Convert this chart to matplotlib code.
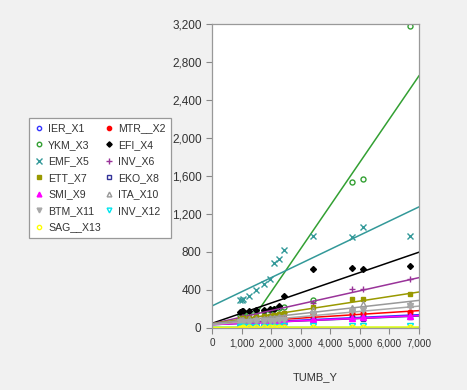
import matplotlib
matplotlib.use("Agg")
import matplotlib.pyplot as plt
from matplotlib.ticker import FuncFormatter
import numpy as np

plt.rcParams['font.family'] = ['Liberation Sans', 'DejaVu Sans']

# ---- data ----
tumb_y = [950, 1000, 1050, 1250, 1500, 1750, 1950, 2100, 2250, 2450, 3400, 4750, 5100, 6700]

series_names = ["IER_X1", "MTR__X2", "YKM_X3", "EFI_X4", "EMF_X5", "INV_X6", "ETT_X7",
                "EKO_X8", "SMI_X9", "ITA_X10", "BTM_X11", "INV_X12", "SAG__X13"]

ier_x1 = [55, 60, 58, 62, 65, 70, 72, 75, 78, 80, 95, 120, 125, 140]
mtr_x2 = [70, 75, 72, 80, 85, 90, 95, 100, 105, 110, 144, 154, 154, 165]
ykm_x3 = [140, 150, 150, 160, 170, 180, 190, 200, 210, 220, 300, 1540, 1570, 3180]
efi_x4 = [170, 175, 178, 180, 185, 190, 200, 205, 230, 337, 621, 635, 621, 653]
emf_x5 = [290, 300, 305, 337, 400, 460, 519, 681, 723, 821, 968, 955, 1060, 968]
inv_x6 = [110, 115, 118, 120, 125, 130, 135, 140, 150, 160, 260, 407, 407, 512]
ett_x7 = [100, 105, 108, 110, 120, 125, 130, 140, 150, 160, 218, 309, 309, 361]
eko_x8 = [40, 42, 45, 48, 50, 52, 55, 58, 60, 62, 85, 102, 100, 120]
smi_x9 = [50, 52, 55, 58, 60, 62, 65, 68, 70, 72, 90, 105, 112, 126]
ita_x10 = [80, 85, 88, 90, 95, 100, 105, 110, 115, 120, 185, 207, 253, 249]
btm_x11 = [60, 62, 65, 68, 70, 72, 75, 78, 80, 85, 150, 180, 190, 230]
inv_x12 = [10, 10, 12, 12, 14, 14, 15, 15, 15, 16, 18, 20, 20, 22]
sag_x13 = [5, 5, 6, 6, 6, 7, 7, 8, 8, 8, 10, 10, 10, 12]

# fitted regression lines (intercept, slope)
fit_intercepts = [40, 45, -530, 49, 232, 45, 45, 35, 35, 45, 35, 10, 8]
fit_slopes = [0.0143, 0.0197, 0.455, 0.107, 0.149, 0.0693, 0.0477, 0.013, 0.0136,
              0.0351, 0.0279, -0.0007, 0.0003]

x_ticks = [0, 1000, 2000, 3000, 4000, 5000, 6000, 7000]
y_ticks = [0, 400, 800, 1200, 1600, 2000, 2400, 2800, 3200]

values = [ier_x1, mtr_x2, ykm_x3, efi_x4, emf_x5, inv_x6, ett_x7,
          eko_x8, smi_x9, ita_x10, btm_x11, inv_x12, sag_x13]

# styles: (color, marker, filled, size)
styles = [
    ("#3333ff", "o", False, 3.4),
    ("#ff0000", "o", True, 3.4),
    ("#33a033", "o", False, 3.6),
    ("#000000", "D", True, 3.0),
    ("#339999", "x", False, 4.5),
    ("#993399", "+", False, 5.0),
    ("#999900", "s", True, 3.4),
    ("#333399", "s", False, 3.2),
    ("#ff00ff", "^", True, 3.8),
    ("#999999", "^", False, 3.8),
    ("#a8a8a8", "v", True, 3.8),
    ("#00e5ee", "v", False, 3.8),
    ("#ffff00", "o", False, 3.4),
]

fig = plt.figure(figsize=(4.67, 3.90), dpi=100)
fig.patch.set_facecolor("#f1f1f1")
ax = fig.add_axes([212/467, 1-328/390, (419-212)/467, (328-24)/390])
ax.set_facecolor("white")

handles = []
xline = np.array([0, 7000])
for name, vals, (c, m, filled, ms), b0, b1 in zip(series_names, values, styles,
                                                  fit_intercepts, fit_slopes):
    if m in ("x", "+"):
        h, = ax.plot(tumb_y, vals, linestyle="none", marker=m, color=c, markersize=ms,
                     markeredgewidth=1.0, label=name)
    else:
        h, = ax.plot(tumb_y, vals, linestyle="none", marker=m, markersize=ms,
                     markerfacecolor=c if filled else "none", markeredgecolor=c,
                     markeredgewidth=1.0, label=name)
    ax.plot(xline, b0 + b1 * xline, color=c, linewidth=1.1)
    handles.append(h)

ax.set_xlim(0, 7000)
ax.set_ylim(0, 3200)
ax.set_xticks(x_ticks)
ax.set_yticks(y_ticks)
fmt = FuncFormatter(lambda v, p: f"{int(v):,}")
ax.xaxis.set_major_formatter(fmt)
ax.yaxis.set_major_formatter(fmt)
ax.tick_params(axis="both", colors="#888888", labelcolor="#333333",
               length=4, width=0.8, direction="out")
ax.tick_params(axis="y", labelsize=8.5)
ax.tick_params(axis="x", labelsize=7.2)
for s in ax.spines.values():
    s.set_color("#999999")
    s.set_linewidth(0.9)
ax.set_xlabel("TUMB_Y", fontsize=8, color="#333333", labelpad=17)

order = [0, 2, 4, 6, 8, 10, 12, 1, 3, 5, 7, 9, 11]
leg = fig.legend([handles[i] for i in order], [series_names[i] for i in order],
                 loc="upper left", bbox_to_anchor=(29/467, 1-118/390), ncol=2,
                 prop={'size': 7.6}, frameon=True, fancybox=False, framealpha=1,
                 edgecolor="#999999", handlelength=0.8, handletextpad=0.5,
                 columnspacing=0.35, labelspacing=0.62, borderpad=0.5,
                 borderaxespad=0, markerscale=0.9, labelcolor="#333333")
leg.get_frame().set_linewidth(0.9)

fig.savefig("out.png", dpi=100, facecolor=fig.get_facecolor())
